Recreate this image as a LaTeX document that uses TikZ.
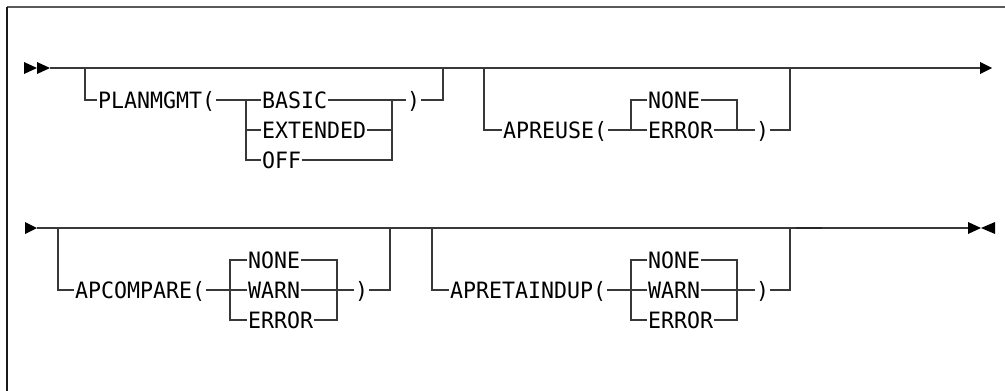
\documentclass[tikz,border=0pt]{standalone}
\usepackage{fontspec}
\setmonofont[FakeStretch=0.96]{DejaVu Sans Mono}
\begin{document}
\begin{tikzpicture}[x=1pt,y=-1pt,
    kw/.style={font=\ttfamily\fontsize{22.5}{23}\selectfont,text=black,
      inner xsep=1pt,inner ysep=0pt,text height=16.4pt,text depth=0pt,anchor=west},
    rail/.style={draw=black!78,line width=1.2pt}]
    \useasboundingbox (0,0) rectangle (1005,391);
    % frame
    \draw[black!65,line width=2pt] (7,7) -- (1005,7);
    \draw[black!90,line width=1.5pt] (7,7) -- (7,391);

    % first row
    \fill (24,62) -- (37,68) -- (24,74) -- cycle;
    \fill (37,62) -- (50,68) -- (37,74) -- cycle;
    \coordinate (s1) at (50,68);
    \coordinate (e1) at (981,68);
    \draw[rail] (s1) -- (e1);
    \fill (980,62) -- (992,68) -- (980,74) -- cycle;

    \coordinate (b1l) at (85,68);
    \coordinate (b1r) at (443,68);
    \node[kw] (planmgmt) at (97,100) {PLANMGMT(};
    \node[kw] (basic) at (261,100) {BASIC};
    \node[kw] (extended) at (261,130) {EXTENDED};
    \node[kw] (off) at (261,160) {OFF};
    \node[kw] (rp1) at (406,100) {)};
    \coordinate (j1l) at (246,100);
    \coordinate (j1r) at (392,100);
    \draw[rail] (b1l) |- (planmgmt.west);
    \draw[rail] (planmgmt.east) -- (basic.west);
    \draw[rail] (j1l) |- (extended.west);
    \draw[rail] (j1l) |- (off.west);
    \draw[rail] (basic.east) -- (rp1.west);
    \draw[rail] (extended.east) -| (j1r);
    \draw[rail] (off.east) -| (j1r);
    \draw[rail] (rp1.east) -| (b1r);

    \coordinate (b2l) at (484,68);
    \coordinate (b2r) at (790,68);
    \node[kw] (apreuse) at (502,130) {APREUSE(};
    \node[kw] (none1) at (647,100) {NONE};
    \node[kw] (error1) at (647,130) {ERROR};
    \node[kw] (rp2) at (755,130) {)};
    \coordinate (j2l) at (631,130);
    \coordinate (j2r) at (737,130);
    \draw[rail] (b2l) |- (apreuse.west);
    \draw[rail] (apreuse.east) -- (error1.west);
    \draw[rail] (j2l) |- (none1.west);
    \draw[rail] (none1.east) -| (j2r);
    \draw[rail] (error1.east) -- (rp2.west);
    \draw[rail] (rp2.east) -| (b2r);

    % second row
    \fill (25,222) -- (37,228) -- (25,234) -- cycle;
    \coordinate (s2) at (37,228);
    \coordinate (e2) at (968,228);
    \draw[rail] (s2) -- (e2);
    \draw[black!85,line width=2pt] (796,228) -- (822,228);
    \fill (968,222) -- (981,228) -- (968,234) -- cycle;
    \fill (995,222) -- (981,228) -- (995,234) -- cycle;

    \coordinate (b3l) at (58,228);
    \coordinate (b3r) at (390,228);
    \node[kw] (apcompare) at (74,290) {APCOMPARE(};
    \node[kw] (none2) at (247,260) {NONE};
    \node[kw] (warn2) at (247,290) {WARN};
    \node[kw] (error2) at (247,320) {ERROR};
    \node[kw] (rp3) at (354,290) {)};
    \coordinate (j3l) at (230,290);
    \coordinate (j3r) at (337,290);
    \draw[rail] (b3l) |- (apcompare.west);
    \draw[rail] (apcompare.east) -- (warn2.west);
    \draw[rail] (none2.west) -| (j3l) |- (error2.west);
    \draw[rail] (none2.east) -| (j3r) |- (error2.east);
    \draw[rail] (warn2.east) -- (rp3.west);
    \draw[rail] (rp3.east) -| (b3r);

    \coordinate (b4l) at (432,228);
    \coordinate (b4r) at (790,228);
    \node[kw] (apretaindup) at (449,290) {APRETAINDUP(};
    \node[kw] (none3) at (647,260) {NONE};
    \node[kw] (warn3) at (647,290) {WARN};
    \node[kw] (error3) at (647,320) {ERROR};
    \node[kw] (rp4) at (755,290) {)};
    \coordinate (j4l) at (631,290);
    \coordinate (j4r) at (737,290);
    \draw[rail] (b4l) |- (apretaindup.west);
    \draw[rail] (apretaindup.east) -- (warn3.west);
    \draw[rail] (none3.west) -| (j4l) |- (error3.west);
    \draw[rail] (none3.east) -| (j4r) |- (error3.east);
    \draw[rail] (warn3.east) -- (rp4.west);
    \draw[rail] (rp4.east) -| (b4r);
\end{tikzpicture}
\end{document}
